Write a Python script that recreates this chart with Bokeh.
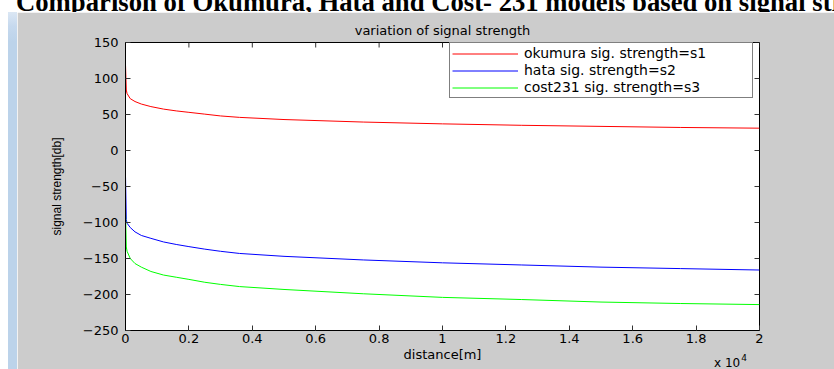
import math
from bokeh.plotting import figure
from bokeh.models import FixedTicker, Range1d, Legend, LegendItem, Div, Row, Column
from bokeh.embed import file_html
from bokeh.resources import INLINE

# ---- data ----
distance_m = [1, 25, 50, 150, 300, 500, 800, 1200, 1600, 2000, 2500, 3000, 3600,
              5000, 7500, 10000, 12500, 15000, 17500, 20000]
okumura_s1 = [118, 84, 79, 72, 68, 64.5, 61, 57.5, 55, 53, 50.5, 48, 46,
              43, 39.5, 37, 35, 33.5, 32, 31]
hata_s2 = [-37, -96, -101, -107, -113, -118, -122, -127, -130.5, -133.5, -137, -140, -143,
           -147, -152, -156, -159, -162, -164, -166]
cost231_s3 = [-86, -134, -140, -150, -157, -162, -168, -173, -176, -179, -183, -186, -189,
              -193, -199, -204, -207, -210.5, -212.5, -214]

x_ticks = [0, 2000, 4000, 6000, 8000, 10000, 12000, 14000, 16000, 18000, 20000]
x_tick_labels = ["0", "0.2", "0.4", "0.6", "0.8", "1", "1.2", "1.4", "1.6", "1.8", "2"]
y_ticks = [-250, -200, -150, -100, -50, 0, 50, 100, 150]

series_names = ["okumura sig. strength=s1", "hata sig. strength=s2", "cost231 sig. strength=s3"]
series_colors = ["#ff0000", "#0000ff", "#00ff00"]

X_MIN, X_MAX = 0, 20000
Y_MIN, Y_MAX = -250, 150

FONT = "DejaVu Sans"

p = figure(width=817, height=357,
           x_range=Range1d(X_MIN, X_MAX), y_range=Range1d(Y_MIN, Y_MAX),
           output_backend="svg", toolbar_location=None,
           min_border_left=108, min_border_right=75, min_border_top=30, min_border_bottom=39,
           border_fill_color="#cccccc", background_fill_color="white",
           outline_line_color="black", outline_line_width=1,
           title="variation of signal strength", margin=0)

p.title.align = "center"
p.title.text_font = FONT
p.title.text_font_size = "13px"
p.title.text_font_style = "normal"
p.title.text_color = "black"
p.title.standoff = 10
p.title.text_line_height = 0.75

p.xgrid.visible = False
p.ygrid.visible = False

def style_axis(ax, ticks):
    ax.ticker = FixedTicker(ticks=ticks)
    ax.major_tick_in = 5
    ax.major_tick_out = 0
    ax.minor_tick_line_color = None
    ax.axis_line_color = "black"
    ax.major_tick_line_color = "#333333"
    ax.major_label_text_font = FONT
    ax.major_label_text_color = "black"
    ax.axis_label_text_font_style = "normal"
    ax.axis_label_text_color = "black"

xa = p.xaxis[0]
style_axis(xa, x_ticks)
xa.major_label_overrides = {t: l for t, l in zip(x_ticks, x_tick_labels)}
xa.major_label_text_font_size = "13px"
xa.major_label_standoff = 3
xa.axis_label = "distance[m]"
xa.axis_label_text_font = FONT
xa.axis_label_text_font_size = "13px"
xa.axis_label_standoff = 1

ya = p.yaxis[0]
style_axis(ya, y_ticks)
ya.major_label_text_font_size = "13px"
ya.major_label_standoff = 7
ya.axis_label = "signal strength[db]"
ya.axis_label_text_font = "Liberation Sans"
ya.axis_label_text_font_size = "12px"
ya.axis_label_standoff = 16

# inward ticks on the top and right edges of the box (MATLAB "box on")
p.ray(x=x_ticks, y=[Y_MAX] * len(x_ticks), length=5, length_units="screen",
      angle=-math.pi / 2, line_color="#333333", line_width=1)
p.ray(x=[X_MAX] * len(y_ticks), y=y_ticks, length=5, length_units="screen",
      angle=math.pi, line_color="#333333", line_width=1)

renderers = []
for ys, c in zip([okumura_s1, hata_s2, cost231_s3], series_colors):
    renderers.append(p.line(distance_m, ys, line_color=c, line_width=1))

legend = Legend(items=[LegendItem(label=n, renderers=[r]) for n, r in zip(series_names, renderers)],
                location=(324, 232), padding=2, spacing=1, margin=0,
                glyph_width=66, glyph_height=15, label_height=15, label_width=226,
                label_standoff=6, label_text_font=FONT, label_text_font_size="14px",
                label_text_color="black",
                border_line_color="black", border_line_width=1,
                background_fill_color="white", background_fill_alpha=1)
p.add_layout(legend, "center")

title_div = Div(
    text=('<div style="position:relative; top:-11px; left:16px; white-space:nowrap; '
          'font-family:\'Liberation Serif\'; font-weight:bold; font-size:26.7px; '
          'line-height:26px; color:black;">'
          'Comparison of Okumura, Hata and Cost- 231 models based on signal strength</div>'),
    width=834, height=12, margin=0,
    styles={"overflow": "hidden", "background-color": "white"})

strip_div = Div(text="", width=17, height=357, margin=0,
                styles={"background": "linear-gradient(to right, #ffffff 8px, transparent 8px), "
                                      "linear-gradient(to bottom, #dbe7f4 0px, #c6d9ee 14px, "
                                      "#bcd3ea 30px, #bcd3ea 100%)"})

# MATLAB axis exponent "x 10^4" under the right end of the x axis (overlaid on the figure border)
exp_div = Div(
    text=('<div style="position:absolute; left:714px; top:3px; white-space:nowrap; '
          'font-family:\'DejaVu Sans\'; font-size:12px; line-height:14px; color:black;">'
          'x 10<span style="font-size:9px; position:relative; top:-6px; margin-left:1px;">4</span></div>'),
    width=834, height=16, margin=(-16, 0, 0, 0),
    styles={"position": "relative", "z-index": "10", "pointer-events": "none",
            "background": "transparent"})

layout = Column(children=[title_div, Row(children=[strip_div, p], spacing=0), exp_div], spacing=0)

open("out.html", "w").write(file_html(layout, INLINE))
